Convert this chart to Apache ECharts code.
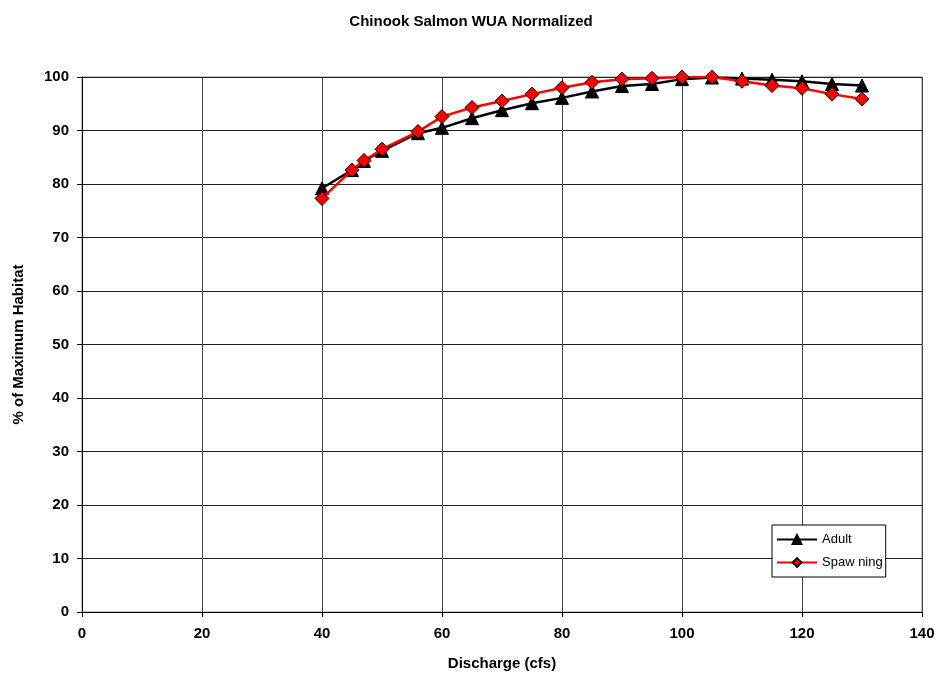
<!DOCTYPE html>
<html><head><meta charset="utf-8">
<script src="https://cdn.jsdelivr.net/npm/echarts@6/dist/echarts.min.js"></script>
<style>html,body{margin:0;padding:0;background:#fff}#c{width:942px;height:685px}</style>
</head><body><div id="c"></div>
<script>
const discharge = [40, 45, 47, 50, 56, 60, 65, 70, 75, 80, 85, 90, 95, 100, 105, 110, 115, 120, 125, 130];
const adult =     [79.2, 82.6, 84.3, 86.2, 89.5, 90.5, 92.3, 93.8, 95.1, 96.1, 97.3, 98.3, 98.7, 99.6, 99.9, 99.7, 99.5, 99.2, 98.7, 98.4];
const spawning =  [77.3, 82.6, 84.4, 86.5, 89.8, 92.6, 94.3, 95.5, 96.8, 98.0, 99.0, 99.6, 99.75, 100, 100, 99.2, 98.4, 97.9, 96.8, 95.9];
const xTicks = {min: 0, max: 140, interval: 20};
const yTicks = {min: 0, max: 100, interval: 10};

const font = 'Liberation Sans, Arial, sans-serif';
const chart = echarts.init(document.getElementById('c'));
chart.setOption({
  backgroundColor: '#fff',
  animation: false,
  title: {text: 'Chinook Salmon WUA Normalized', left: 'center', top: 9,
    textStyle: {fontFamily: font, fontSize: 15, fontWeight: 'bold', color: '#000'}},
  grid: {left: 82, right: 20, top: 77, bottom: 73, show: true, borderColor: '#888', borderWidth: 1},
  legend: {orient: 'vertical', left: 772, top: 525,
    backgroundColor: '#fff', borderColor: '#000', borderWidth: 1, padding: [8, 3, 8, 4],
    itemWidth: 40, itemHeight: 11, itemGap: 10,
    textStyle: {fontFamily: font, fontSize: 13, color: '#000'},
    data: ['Adult', 'Spaw ning']},
  xAxis: {type: 'value', min: xTicks.min, max: xTicks.max, interval: xTicks.interval,
    name: 'Discharge (cfs)', nameLocation: 'middle', nameGap: 44,
    nameTextStyle: {fontFamily: font, fontSize: 15, fontWeight: 'bold', color: '#000'},
    axisLine: {lineStyle: {color: '#000', width: 1}},
    axisTick: {show: true, length: 5, lineStyle: {color: '#000'}},
    axisLabel: {fontFamily: font, fontSize: 15, fontWeight: 'bold', color: '#000', margin: 14},
    splitLine: {show: true, lineStyle: {color: '#444', width: 1}}},
  yAxis: {type: 'value', min: yTicks.min, max: yTicks.max, interval: yTicks.interval,
    name: '% of Maximum Habitat', nameLocation: 'middle', nameGap: 56, nameRotate: 90,
    nameTextStyle: {fontFamily: font, fontSize: 15, fontWeight: 'bold', color: '#000'},
    axisLine: {show: true, lineStyle: {color: '#000', width: 1}},
    axisTick: {show: true, length: 5, lineStyle: {color: '#000'}},
    axisLabel: {fontFamily: font, fontSize: 15, fontWeight: 'bold', color: '#000', margin: 13},
    splitLine: {show: true, lineStyle: {color: '#222', width: 1}}},
  series: [
    {name: 'Adult', type: 'line', data: discharge.map((x, i) => [x, adult[i]]),
     symbol: 'triangle', symbolSize: 13, lineStyle: {color: '#000', width: 2.5},
     itemStyle: {color: '#000', borderColor: '#000', borderWidth: 1}, z: 2},
    {name: 'Spaw ning', type: 'line', data: discharge.map((x, i) => [x, spawning[i]]),
     symbol: 'diamond', symbolSize: 14, lineStyle: {color: '#ff0000', width: 2.5},
     itemStyle: {color: '#ff0000', borderColor: '#000', borderWidth: 1}, z: 3}
  ]
});
</script></body></html>
